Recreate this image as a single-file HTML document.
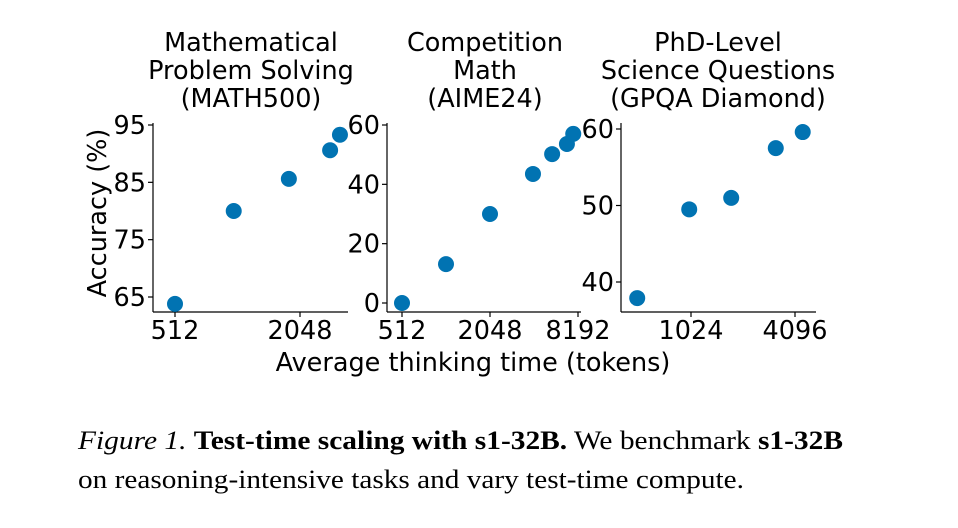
<!DOCTYPE html>
<html><head><meta charset="utf-8">
<style>
html,body{margin:0;padding:0;background:#fff;}
svg{display:block;}
.t{font-family:"DejaVu Sans","Liberation Sans",sans-serif;fill:#000;}
.cap{font-family:"Liberation Serif",serif;font-size:26px;fill:#000;}
</style></head>
<body>
<svg id="fig" width="958" height="528" viewBox="0 0 958 528">
<g id="plots"></g>
<text class="t" x="473" y="371" font-size="25.5" text-anchor="middle">Average thinking time (tokens)</text>
<text class="t" transform="translate(106,213) rotate(-90)" font-size="25.5" text-anchor="middle">Accuracy (%)</text>
<text class="cap" x="78" y="449" textLength="765" lengthAdjust="spacingAndGlyphs"><tspan font-style="italic">Figure 1.</tspan> <tspan font-weight="bold">Test-time scaling with s1-32B.</tspan> We benchmark <tspan font-weight="bold">s1-32B</tspan></text>
<text class="cap" x="78" y="488" textLength="666" lengthAdjust="spacingAndGlyphs">on reasoning-intensive tasks and vary test-time compute.</text>
</svg>
<script>
// MATH500
const mathTokens=[512,982,1810,2860,3190];
const mathAcc=[63.8,80.0,85.6,90.6,93.3];
const mathYTicks=[65,75,85,95];
const mathXTicks=[512,2048];
// AIME24
const aimeTokens=[512,1024,2048,4030,5450,6880,7600];
const aimeAcc=[0,13.1,30.0,43.5,50.2,53.6,57.0];
const aimeYTicks=[0,20,40,60];
const aimeXTicks=[512,2048,8192];
// GPQA
const gpqaTokens=[500,1000,1750,3170,4540];
const gpqaAcc=[37.9,49.5,51.0,57.5,59.6];
const gpqaYTicks=[40,50,60];
const gpqaXTicks=[1024,4096];

const NS='http://www.w3.org/2000/svg';
const root=document.getElementById('plots');
function mk(tag,attrs,parent){const e=document.createElementNS(NS,tag);for(const k in attrs)e.setAttribute(k,attrs[k]);parent.appendChild(e);return e;}

const panels=[
 {key:'math500',title:['Mathematical','Problem Solving','(MATH500)'],tcx:251,x0:153,x1:348,top:123,bot:312,
  xa:512,xaPx:175,pxPerOct:62.5,ya:65,yaPx:297,pxPerUnit:172/30,xs:mathTokens,ys:mathAcc,yt:mathYTicks,xt:mathXTicks},
 {key:'aime24',title:['Competition','Math','(AIME24)'],tcx:485,x0:387,x1:581,top:123,bot:312,
  xa:512,xaPx:402,pxPerOct:44,ya:0,yaPx:303,pxPerUnit:178/60,xs:aimeTokens,ys:aimeAcc,yt:aimeYTicks,xt:aimeXTicks},
 {key:'gpqa',title:['PhD-Level','Science Questions','(GPQA Diamond)'],tcx:718,x0:621,x1:816,top:123,bot:312,
  xa:1024,xaPx:691,pxPerOct:52,ya:40,yaPx:282,pxPerUnit:7.65,xs:gpqaTokens,ys:gpqaAcc,yt:gpqaYTicks,xt:gpqaXTicks}
];
panels.forEach(p=>{
  const xScale=v=>p.xaPx+Math.log2(v/p.xa)*p.pxPerOct;
  const yScale=v=>p.yaPx-(v-p.ya)*p.pxPerUnit;
  const g=mk('g',{},root);
  
  
  p.title.forEach((s,i)=>{
    const t=mk('text',{class:'t',x:p.tcx,y:51+i*28,'font-size':25.5,'text-anchor':'middle'},g);
    t.textContent=s;
    
    
  });
  const ya=mk('line',{x1:p.x0,y1:p.top,x2:p.x0,y2:p.bot,stroke:'#000','stroke-width':1.2},g);
  
  
  const xa=mk('line',{x1:p.x0,y1:p.bot,x2:p.x1,y2:p.bot,stroke:'#000','stroke-width':1.2},g);
  
  
  p.yt.forEach(v=>{
    const y=yScale(v);
    mk('line',{x1:p.x0-5,y1:y,x2:p.x0,y2:y,stroke:'#000','stroke-width':1.2},g);
    const t=mk('text',{class:'t',x:p.x0-7,y:y+9,'font-size':25.5,'text-anchor':'end'},g);
    t.textContent=v;
    
    
  });
  p.xt.forEach(v=>{
    const x=xScale(v);
    mk('line',{x1:x,y1:p.bot,x2:x,y2:p.bot+5,stroke:'#000','stroke-width':1.2},g);
    const t=mk('text',{class:'t',x:x,y:p.bot+27,'font-size':25.5,'text-anchor':'middle'},g);
    t.textContent=v;
    
    
  });
  p.xs.forEach((v,i)=>{
    const c=mk('circle',{cx:xScale(v),cy:yScale(p.ys[i]),r:8,fill:'#0173b2'},g);
    
    
  });
});
</script>
</body></html>
